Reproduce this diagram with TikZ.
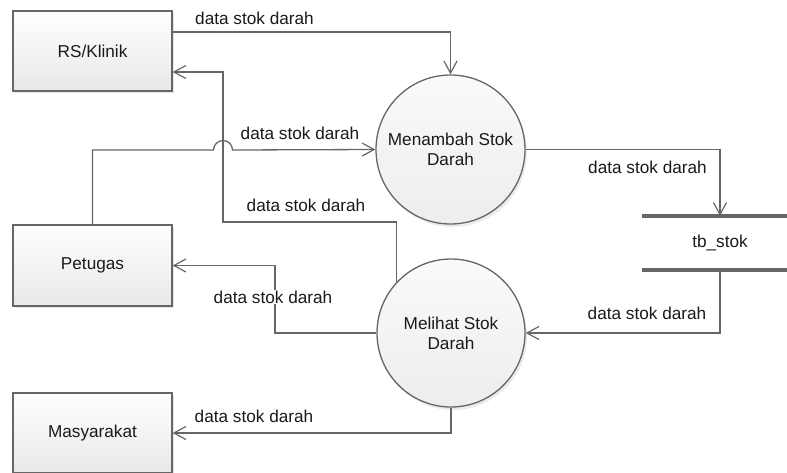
\documentclass[tikz,border=0pt]{standalone}
\usepackage{fontspec}
\setmainfont{Liberation Sans}
\usetikzlibrary{arrows.meta,shadows}
\definecolor{lineC}{HTML}{666666}
\definecolor{txtC}{HTML}{1A1A1A}
\tikzset{
  base/.style={font=\fontsize{17.2}{20}\selectfont, text=txtC},
  entity/.style={base, draw=lineC, line width=1.3pt, minimum width=159pt, minimum height=80pt,
     top color=white, bottom color=black!9,
     drop shadow={shadow xshift=2pt, shadow yshift=-2pt, opacity=0.25, fill=black!40}},
  proc/.style={base, draw=lineC, line width=1.3pt, circle, minimum size=149pt, align=center,
     inner sep=0pt, top color=white!98!black, bottom color=black!7,
     drop shadow={shadow xshift=2pt, shadow yshift=-3pt, opacity=0.2, fill=black!40}},
  flow/.style={draw=lineC, line width=1.3pt, -{Straight Barb[length=12pt,width=13pt,line width=1.2pt]}},
  lbl/.style={base, inner sep=1pt, fill=white},
  bar/.style={draw=lineC, line width=4pt},
}
\begin{document}
\begin{tikzpicture}[x=1pt,y=-1pt]
\useasboundingbox (0,0) rectangle (787,472);
\node[entity] (rs) at (92.5,51) {RS/Klinik};
\node[entity, minimum height=81pt] (pet) at (92.5,265.5) {Petugas};
\node[entity] (mas) at (92.5,433) {Masyarakat};
\node[proc] (p1) at (450.5,149.5) {Menambah Stok\\Darah};
\node[proc, minimum size=148pt] (p2) at (451,333) {Melihat Stok\\Darah};
\node[base, minimum width=156pt, minimum height=54pt, inner sep=0pt] (st) at (720,243) {tb\_stok};
\draw[bar] (st.north west) -- (st.north east);
\draw[bar] (st.south west) -- (st.south east);

\coordinate (c1) at (223,222);
\coordinate (j1) at (213.5,150);
\coordinate (c2) at (275,265.5);

% RS -> Menambah
\draw[flow] ([yshift=19pt]rs.east) -| (p1.north);
\node[lbl] (l1) at (254.5,18) {data stok darah};
% Melihat -> RS
\draw[flow] (p2.137) |- (c1) |- ([yshift=-21pt]rs.east);
% Petugas -> Menambah (with jump)
\draw[flow] (pet.north) |- (j1) arc[start angle=180, end angle=0, radius=9.5pt] -- (p1.west);
\node[lbl] (l2) at (300,133) {data stok darah};
\node[lbl] (l3) at (306,205) {data stok darah};
% Menambah -> store
\draw[flow] (p1.east) -| (st.north);
\node[lbl] (l4) at (647.5,167) {data stok darah};
% store -> Melihat
\draw[flow] (st.south) |- (p2.east);
\node[lbl] (l5) at (647,313) {data stok darah};
% Melihat -> Petugas
\draw[flow] (p2.west) -| (c2) -- (pet.east);
\node[lbl] (l6) at (273,297) {data stok darah};
% Melihat -> Masyarakat
\draw[flow] (p2.south) |- (mas.east);
\node[lbl] (l7) at (254,416) {data stok darah};
\end{tikzpicture}
\end{document}
